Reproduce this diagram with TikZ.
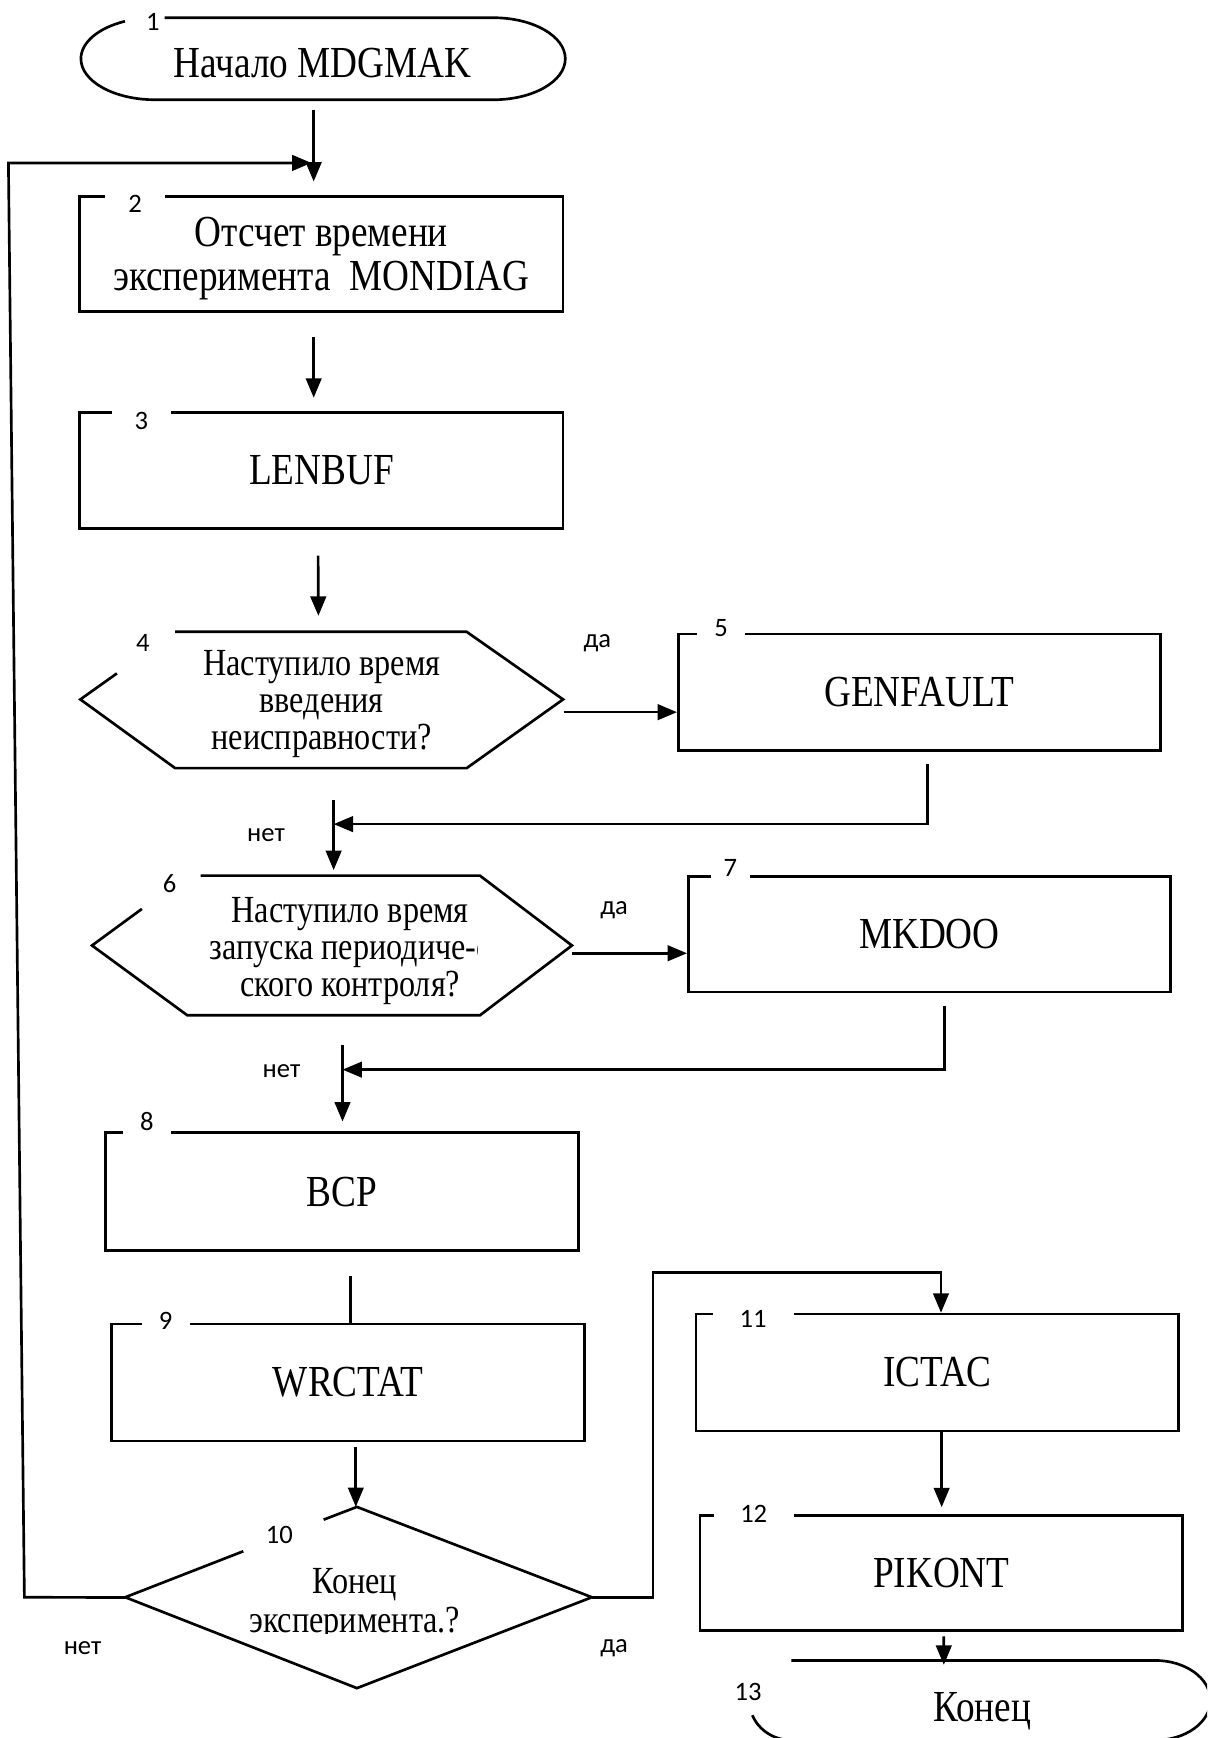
\documentclass[tikz,border=0pt]{standalone}
\usepackage{fontspec}
\newfontfamily\serifc{Liberation Serif}[FakeStretch=0.84]
\newfontfamily\sansc{Carlito}
\usetikzlibrary{arrows.meta,calc}
\tikzset{
  ln/.style={line width=1.2pt},
  arr/.style={ln,-{Triangle[length=8.75pt,width=7pt]}},
  box/.style={draw,ln,inner sep=0pt,font=\serifc\fontsize{20}{19.5}\selectfont,align=center},
  txt/.style={inner sep=0pt,font=\serifc\fontsize{20}{19.5}\selectfont,align=center},
  qtxt/.style={inner sep=0pt,font=\serifc\fontsize{17.3}{16.75}\selectfont,align=center,text depth=0pt},
  num/.style={inner sep=0pt,font=\sansc\fontsize{12}{14}\selectfont},
  gap/.style={num,fill=white,minimum height=14pt},
  lbl/.style={inner sep=0pt,font=\sansc\fontsize{12}{14}\selectfont},
  shp/.style={inner sep=0pt,outer sep=0pt}
}
\begin{document}
\begin{tikzpicture}[x=0.5pt,y=-0.5pt]
\useasboundingbox (0,0) rectangle (1089,1568);
\clip (0,0) rectangle (1089,1568);
\fill[white] (0,0) rectangle (1089,1568);

% 1: start terminator
\draw[ln] (148.5,16) -- (445,16)
  arc[start angle=90,end angle=-90,x radius=32.5pt,y radius=18.5pt]
  -- (140,90)
  arc[start angle=-90,end angle=-246,x radius=33.5pt,y radius=18.5pt];
\node[txt] (t1) at (291,57) {Начало MDGMAK};
\node[num] (n1) at (138,19.5) {1};
\coordinate (t1b) at (283,90);

% 2
\node[box,minimum width=218pt,minimum height=52pt,text depth=0pt] (b2) at (290,229)
  {Отсчет времени\\эксперимента\ \ MONDIAG};
\node[gap,minimum width=27pt] (n2) at (122,183.5) {2};

% 3
\node[box,minimum width=218pt,minimum height=52.5pt] (b3) at (290,424.5) {LENBUF};
\node[gap,minimum width=26.5pt] (n3) at (127.5,379.5) {3};

% 4: decision hexagon
\node[qtxt,minimum width=217.75pt,minimum height=61.5pt] (h4) at (290.25,631.5)
  {Наступило время\\введения\\неисправности?};
\draw[ln] (105.5,607.5) -- (72.5,631) -- (158,693) -- (421,693) -- (508,631)
  -- (421,570) -- (158,570);
\node[num] (n4) at (129,580) {4};

% 5
\node[box,minimum width=217.5pt,minimum height=52.5pt] (b5) at (829.5,624.5) {GENFAULT};
\node[gap,minimum width=21.5pt] (n5) at (650.5,567) {5};

% 6: decision hexagon
\node[shp,minimum width=216.5pt,minimum height=63pt] (h6) at (299.5,853) {};
\draw[ln] (128,820) -- (83,853) -- (169,916) -- (433,916) -- (516,853)
  -- (433,790) -- (181,790);
\begin{scope}
  \clip (140,780) rectangle (431,930);
  \node[qtxt] (h6t) at (316,854)
    {Наступило время\\запуска периодиче-с\hspace*{3pt}\\ского контроля?};
\end{scope}
\node[num] (n6) at (153,797) {6};

% 7
\node[box,minimum width=217.5pt,minimum height=52pt] (b7) at (838.5,843) {MKDOO};
\node[gap,minimum width=18pt] (n7) at (659,783) {7};

% 8
\node[box,minimum width=213.5pt,minimum height=53pt] (b8) at (308.5,1075) {BCP};
\node[gap,minimum width=21.5pt] (n8) at (132.5,1012) {8};

% 9
\node[box,minimum width=213.3pt,minimum height=52.7pt] (b9) at (314,1247.3) {WRCTAT};
\node[gap,minimum width=21.5pt] (n9) at (149.5,1192) {9};

% 10: decision diamond
\node[shp,minimum width=210.5pt,minimum height=81.75pt] (d10) at (323.5,1441.25) {};
\draw[ln] (292,1371) -- (322,1359.5) -- (534,1441) -- (322,1523) -- (113,1441)
  -- (219.5,1399.5);
\begin{scope}
  \clip (200,1395) rectangle (450,1474);
  \node[qtxt,font=\serifc\fontsize{17.3}{17.5}\selectfont] (d10t) at (320,1444)
    {Конец\\эксперимента.?};
\end{scope}
\node[num] (n10) at (252,1385) {10};

% 11
\node[box,minimum width=217.75pt,minimum height=52.75pt] (b11) at (845.75,1238.25) {ICTAC};
\node[gap,minimum width=36.5pt] (n11) at (679.5,1190) {11};

% 12
\node[box,minimum width=217.75pt,minimum height=52pt] (b12) at (849.25,1419) {PIKONT};
\node[gap,minimum width=36pt] (n12) at (680,1366) {12};

% 13: end terminator
\draw[ln] (714,1498) -- (1042,1498)
  arc[start angle=90,end angle=-90,x radius=25pt,y radius=18pt]
  -- (714,1570)
  arc[start angle=-90,end angle=-158,x radius=19pt,y radius=18pt];
\node[txt,text depth=0pt] (t13) at (886,1540) {Конец};
\node[num] (n13) at (675,1526) {13};
\coordinate (t13t) at (851.5,1498);

% connectors
\draw[arr,shorten <=4.5pt,shorten >=6pt] (t1b) -- (t1b |- b2.north);
\draw[arr] ([xshift=-3.5pt,yshift=-11pt]b2.south) -- ([xshift=-3.5pt,yshift=6pt]b3.north);
\draw[arr] ([xshift=-1.5pt,yshift=-11.5pt]b3.south) -- ([xshift=-1.5pt,yshift=7pt]h4.north);

\draw[arr] ([yshift=-5.5pt]h4.east) -- ([yshift=-5.5pt]h4.east -| b5.west);
\node[lbl] (l45) at (539,580) {да};

\coordinate (m46) at (301,743.5);
\draw[arr] ([xshift=3.75pt,yshift=-5.5pt]b5.south) |- (m46);
\draw[arr,shorten >=2.5pt] ([yshift=10.75pt]m46) -- (m46 |- h6.north);
\node[lbl] (l46) at (240,753) {нет};

\draw[arr] ([yshift=-3.5pt]h6.east) -- ([yshift=-3.5pt]h6.east -| b7.west);
\node[lbl] (l67) at (554,821) {да};

\coordinate (m68) at (309,965);
\draw[arr] ([xshift=6.75pt,yshift=-5.5pt]b7.south) |- (m68);
\draw[arr,shorten >=4.5pt] ([yshift=11pt]m68) -- (m68 |- b8.north);
\node[lbl] (l68) at (254,966) {нет};

\draw[ln] ([xshift=3.75pt,yshift=-11pt]b8.south) -- ([xshift=3.75pt]b8.south |- b9.north);
\draw[arr] ([xshift=3.5pt,yshift=-2pt]b9.south) -- ([xshift=3.5pt]b9.south |- d10.north);

% no: back to the start of the loop
\coordinate (lpB) at (22,1441);
\coordinate (lpT) at (7.6,147);
\draw[arr,shorten >=1pt] (d10.west) -- (lpB) -- (lpT) -- (lpT -| t1b);
\node[lbl] (l10n) at (74.5,1487) {нет};

% yes: on to ICTAC
\coordinate (r1) at (589,1148);
\draw[arr] (d10.east) -| (r1) -| ([xshift=1.6pt]b11.north);
\node[lbl] (l10y) at (554,1487) {да};

\draw[arr,shorten >=3pt] ([xshift=1.9pt]b11.south) -- ([xshift=1.9pt]b11.south |- b12.north);
\draw[arr,shorten >=-2pt] ([xshift=1.1pt,yshift=-2pt]b12.south) -- (t13t);
\end{tikzpicture}
\end{document}
